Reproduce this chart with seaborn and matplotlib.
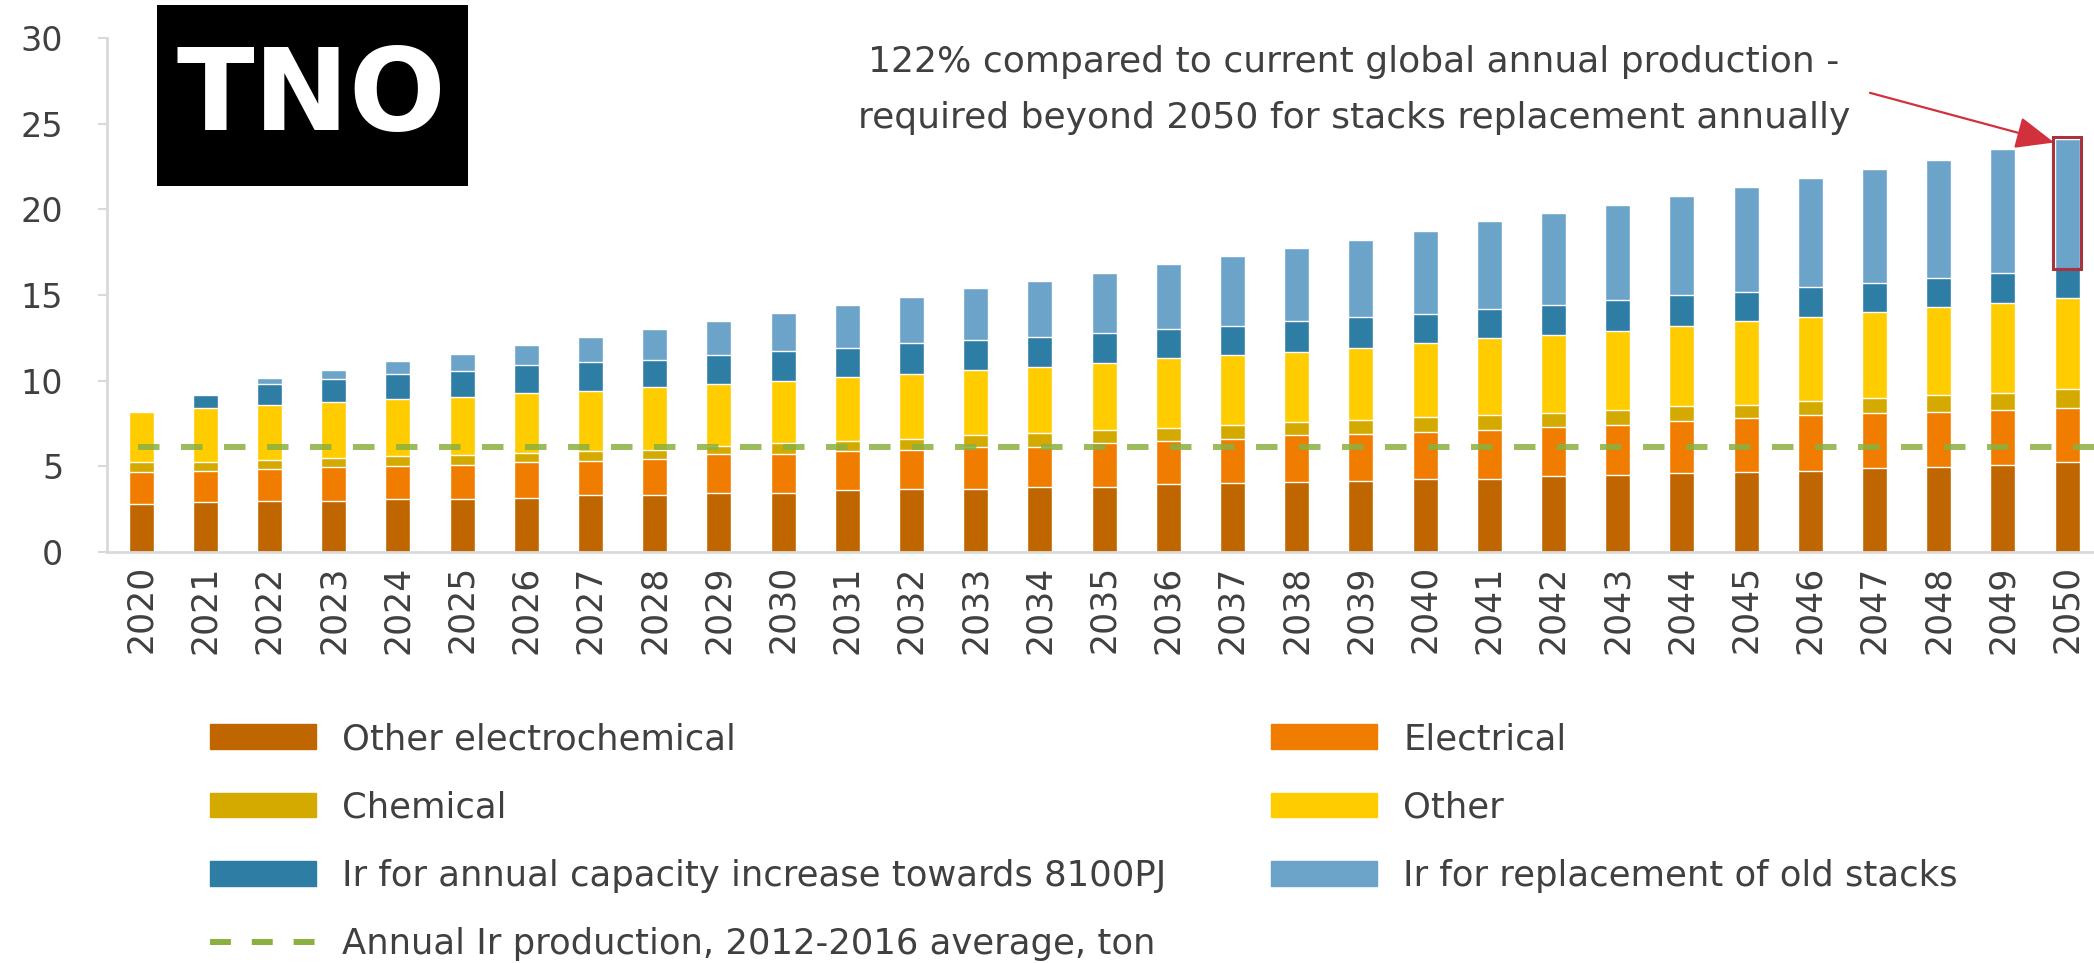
import numpy as np
import matplotlib
matplotlib.use('Agg')
import matplotlib.pyplot as plt
import seaborn as sns
from matplotlib.patches import Patch, Rectangle
from matplotlib.lines import Line2D

sns.set_style('white')
plt.rcParams['font.family'] = ['DejaVu Sans']

# iridium demand (ton) per year
years = [str(y) for y in range(2020, 2051)]
other_electrochemical = [2.8, 2.9, 2.97, 2.97, 3.1, 3.1, 3.17, 3.3, 3.34, 3.45, 3.45, 3.6, 3.66, 3.66, 3.8, 3.8,
                         3.94, 4.0, 4.1, 4.14, 4.25, 4.25, 4.46, 4.5, 4.6, 4.68, 4.74, 4.9, 4.96, 5.06, 5.24]
electrical = [1.88, 1.84, 1.88, 1.99, 1.9, 2.0, 2.07, 2.0, 2.11, 2.26, 2.25, 2.3, 2.31, 2.44, 2.34, 2.56,
              2.56, 2.6, 2.7, 2.76, 2.75, 2.85, 2.84, 2.9, 3.05, 3.12, 3.26, 3.2, 3.24, 3.24, 3.16]
chemical = [0.6, 0.54, 0.54, 0.54, 0.6, 0.57, 0.56, 0.6, 0.52, 0.5, 0.66, 0.6, 0.63, 0.7, 0.82, 0.74,
            0.76, 0.8, 0.8, 0.8, 0.9, 0.9, 0.8, 0.9, 0.85, 0.8, 0.8, 0.9, 0.96, 1.0, 1.1]
other = [2.91, 3.12, 3.17, 3.27, 3.34, 3.38, 3.47, 3.5, 3.66, 3.6, 3.64, 3.7, 3.8, 3.8, 3.84, 3.96,
         4.04, 4.1, 4.1, 4.2, 4.3, 4.5, 4.55, 4.6, 4.7, 4.9, 4.9, 5.0, 5.14, 5.25, 5.3]
ir_capacity = [0.0, 0.76, 1.24, 1.33, 1.46, 1.51, 1.63, 1.7, 1.57, 1.7, 1.75, 1.7, 1.8, 1.8, 1.76, 1.74,
               1.7, 1.7, 1.8, 1.8, 1.7, 1.66, 1.75, 1.8, 1.8, 1.7, 1.75, 1.7, 1.7, 1.72, 1.7]
ir_replacement = [0.0, 0.05, 0.33, 0.5, 0.74, 1.0, 1.17, 1.46, 1.84, 1.97, 2.19, 2.5, 2.7, 3.0, 3.28, 3.5,
                  3.8, 4.1, 4.26, 4.5, 4.85, 5.14, 5.36, 5.56, 5.8, 6.1, 6.35, 6.65, 6.9, 7.23, 7.6]
annual_production = 6.1

series = [other_electrochemical, electrical, chemical, other, ir_capacity, ir_replacement]
labels = ['Other electrochemical', 'Electrical', 'Chemical', 'Other',
          'Ir for annual capacity increase towards 8100PJ', 'Ir for replacement of old stacks']
colors = ['#C06600', '#F07D00', '#D4AA00', '#FFCC00', '#2E7DA5', '#6BA3C9']
line_color = '#8AB040'
text_color = '#404040'
grid_color = '#D9D9D9'

W, H = 2094, 963
fig = plt.figure(figsize=(W / 100, H / 100), dpi=100)
ax = fig.add_axes([107 / W, 1 - 552 / H, 1 - 107 / W, (552 - 38) / H])

# stacked bars: draw cumulative totals from the top layer down
cum = np.cumsum(np.array(series), axis=0)
for i in range(len(series) - 1, -1, -1):
    sns.barplot(x=years, y=cum[i], color=colors[i], saturation=1, width=0.39,
                errorbar=None, ax=ax, zorder=2)

ax.hlines(annual_production, -0.05, 30.42, colors=line_color, linewidth=4.3,
          linestyles=(0, (3.6, 3.6)), alpha=0.85, zorder=3)

# highlight box for the 2050 replacement segment
last = len(years) - 1
box_bottom = cum[4][last]
box = Rectangle((last - 0.22, box_bottom), 0.44, ir_replacement[last] + 0.1,
                fill=False, edgecolor='#A8323E', linewidth=2.2, zorder=4)
ax.add_patch(box)
ax.annotate('', xy=(last - 0.2, cum[5][last] - 0.2), xytext=(26.93, 26.8),
            arrowprops=dict(arrowstyle='-|>,head_length=1.2,head_width=0.5',
                            color='#D0313D', lw=1.6, mutation_scale=20,
                            shrinkA=0, shrinkB=0),
            annotation_clip=False, zorder=5)

ax.set_xlim(-0.53, 30.42)
ax.set_ylim(0, 30)
ax.set_yticks(range(0, 31, 5))
ax.set_xlabel('')
ax.set_ylabel('')
for s in ['top', 'right']:
    ax.spines[s].set_visible(False)
for s in ['left', 'bottom']:
    ax.spines[s].set_color(grid_color)
    ax.spines[s].set_linewidth(2)
ax.tick_params(axis='y', which='both', left=True, length=6.5, width=1.5, color=grid_color,
               pad=25, labelsize=24, labelcolor=text_color)
ax.tick_params(axis='x', length=0, pad=9.5, labelsize=25, labelcolor=text_color, labelrotation=90)

fig.text(1354 / W, 1 - 90 / H,
         '122% compared to current global annual production -\nrequired beyond 2050 for stacks replacement annually',
         ha='center', va='center', fontsize=26, linespacing=1.78, color=text_color)

# TNO logo
fig.patches.append(Rectangle((157 / W, 1 - 186 / H), (468 - 157) / W, (186 - 5) / H,
                             transform=fig.transFigure, facecolor='black', edgecolor='none'))
fig.text(311 / W, 1 - 98 / H, 'TNO', ha='center', va='center', color='white',
         fontsize=82, fontweight='heavy')

leg_kw = dict(loc='upper left', frameon=False, fontsize=25.5, handlelength=3.0,
              handleheight=0.7, handletextpad=0.73, labelspacing=0.97,
              borderpad=0, borderaxespad=0, labelcolor=text_color)
h1 = [Patch(color=colors[0]), Patch(color=colors[2]), Patch(color=colors[4]),
      Line2D([], [], color=line_color, lw=4.3, ls=(0, (3.5, 3.5)))]
l1 = [labels[0], labels[2], labels[4], 'Annual Ir production, 2012-2016 average, ton']
fig.legend(h1, l1, bbox_to_anchor=(210 / W, 1 - 722 / H), **leg_kw)
h2 = [Patch(color=colors[1]), Patch(color=colors[3]), Patch(color=colors[5])]
l2 = [labels[1], labels[3], labels[5]]
fig.legend(h2, l2, bbox_to_anchor=(1271 / W, 1 - 722 / H), **leg_kw)

fig.savefig('out.png', dpi=100)
